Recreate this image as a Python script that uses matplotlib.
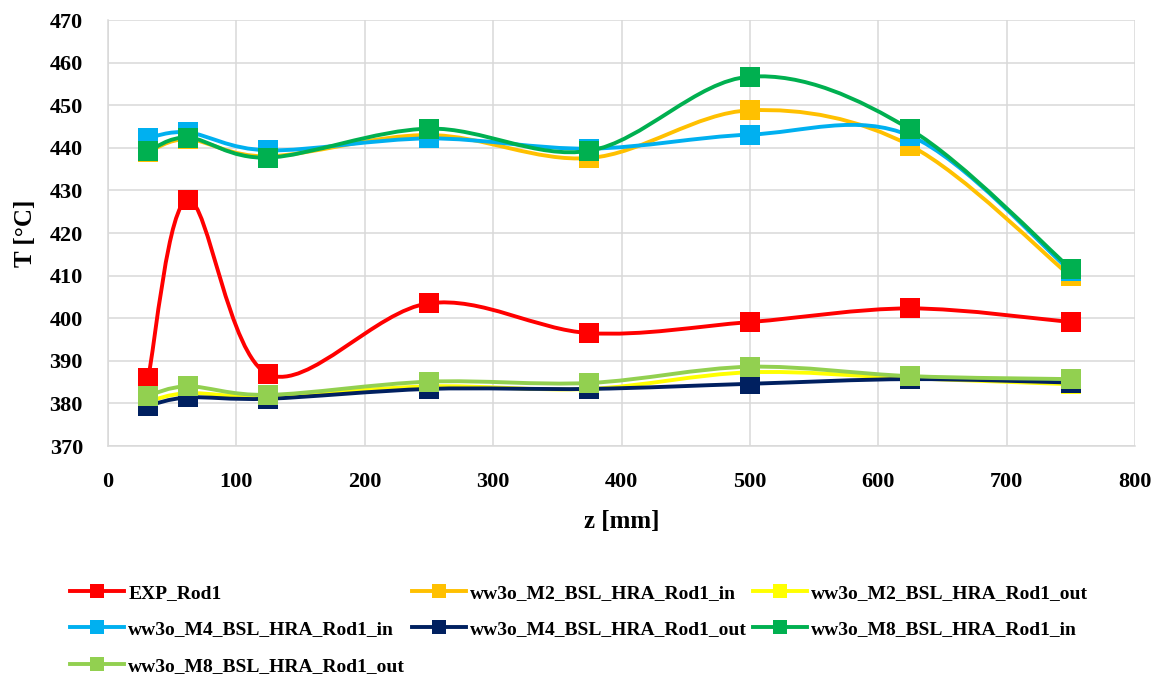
import matplotlib
matplotlib.use("Agg")
import matplotlib.pyplot as plt
import numpy as np
from matplotlib.path import Path
from matplotlib.patches import PathPatch
from matplotlib.lines import Line2D

# axial position of the measurement points
z_mm = [31.25, 62.5, 125, 250, 375, 500, 625, 750]

exp_rod1 = [386.0, 427.8, 386.8, 403.5, 396.5, 399.1, 402.3, 399.1]
m2_in = [439.0, 442.0, 438.0, 443.0, 437.6, 448.8, 440.5, 409.8]
m2_out = [380.5, 382.4, 381.6, 384.0, 383.4, 387.3, 385.9, 384.5]
m4_in = [442.3, 443.6, 439.4, 442.2, 439.8, 443.1, 442.8, 411.0]
m4_out = [379.5, 381.4, 381.1, 383.4, 383.4, 384.6, 385.7, 384.9]
m8_in = [439.2, 442.4, 437.7, 444.5, 439.3, 456.7, 444.3, 411.6]
m8_out = [381.8, 384.0, 382.0, 385.1, 384.8, 388.6, 386.4, 385.7]

series = [
    ("EXP_Rod1", exp_rod1, "#FF0000"),
    ("ww3o_M2_BSL_HRA_Rod1_in", m2_in, "#FFC000"),
    ("ww3o_M2_BSL_HRA_Rod1_out", m2_out, "#FFFF00"),
    ("ww3o_M4_BSL_HRA_Rod1_in", m4_in, "#00B0F0"),
    ("ww3o_M4_BSL_HRA_Rod1_out", m4_out, "#002060"),
    ("ww3o_M8_BSL_HRA_Rod1_in", m8_in, "#00B050"),
    ("ww3o_M8_BSL_HRA_Rod1_out", m8_out, "#92D050"),
]

FONT = "Liberation Serif"


def smooth_path(x, y):
    """Excel-style smoothed line as cubic bezier path."""
    p = np.column_stack([x, y]).astype(float)
    n = len(p)
    verts = [p[0]]
    codes = [Path.MOVETO]
    for i in range(n - 1):
        p_prev = p[i - 1] if i > 0 else p[i]
        p_next2 = p[i + 2] if i + 2 < n else p[i + 1]
        c1 = p[i] + (p[i + 1] - p_prev) / 6.0
        c2 = p[i + 1] - (p_next2 - p[i]) / 6.0
        verts += [c1, c2, p[i + 1]]
        codes += [Path.CURVE4] * 3
    return Path(verts, codes)


fig = plt.figure(figsize=(11.55, 6.84), dpi=100)
ax = fig.add_axes([108 / 1155, 1 - 446 / 684, (1135 - 108) / 1155, (446 - 20) / 684])

handles = {}
for k, (name, vals, col) in enumerate(series):
    patch = PathPatch(smooth_path(z_mm, vals), facecolor="none", edgecolor=col,
                      linewidth=2.8, zorder=3 + k, capstyle="round", joinstyle="round")
    ax.add_patch(patch)
    ax.plot(z_mm, vals, linestyle="none", marker="s", markersize=14,
            color=col, markeredgewidth=0, zorder=3 + k)
    handles[name] = Line2D([], [], color=col, linewidth=2.8, marker="s",
                           markersize=10, markeredgewidth=0)

ax.set_xlim(0, 800)
ax.set_ylim(370, 470)
ax.set_xticks(np.arange(0, 801, 100))
ax.set_yticks(np.arange(370, 471, 10))
ax.grid(True, color="#D9D9D9", linewidth=1.1)
ax.set_axisbelow(True)
for s in ["top", "right"]:
    ax.spines[s].set_visible(False)
for s in ["left", "bottom"]:
    ax.spines[s].set_color("#D9D9D9")
    ax.spines[s].set_linewidth(1.1)
ax.tick_params(axis="both", length=0, labelsize=16)
ax.tick_params(axis="x", pad=19)
ax.tick_params(axis="y", pad=18)
for lab in ax.get_xticklabels() + ax.get_yticklabels():
    lab.set_fontfamily(FONT)
    lab.set_fontweight("bold")

ax.set_xlabel("z [mm]", fontsize=18, fontweight="bold", family=FONT, labelpad=13)
ax.set_ylabel("T [°C]", fontsize=18, fontweight="bold", family=FONT, labelpad=9)

# legend laid out as three fixed-width columns (row-major like the original)
columns = [
    ["EXP_Rod1", "ww3o_M4_BSL_HRA_Rod1_in", "ww3o_M8_BSL_HRA_Rod1_out"],
    ["ww3o_M2_BSL_HRA_Rod1_in", "ww3o_M4_BSL_HRA_Rod1_out"],
    ["ww3o_M2_BSL_HRA_Rod1_out", "ww3o_M8_BSL_HRA_Rod1_in"],
]
col_x = [70, 412, 753]
for cx, names in zip(col_x, columns):
    leg = fig.legend([handles[n] for n in names], names, loc="upper left",
                     bbox_to_anchor=(cx / 1155, 1 - 584 / 684), frameon=False,
                     borderpad=0, borderaxespad=0, handlelength=2.8,
                     handletextpad=0.2, labelspacing=0.98,
                     prop={"family": FONT, "weight": "bold", "size": 14})

fig.savefig("out.png", dpi=100, facecolor="white")
